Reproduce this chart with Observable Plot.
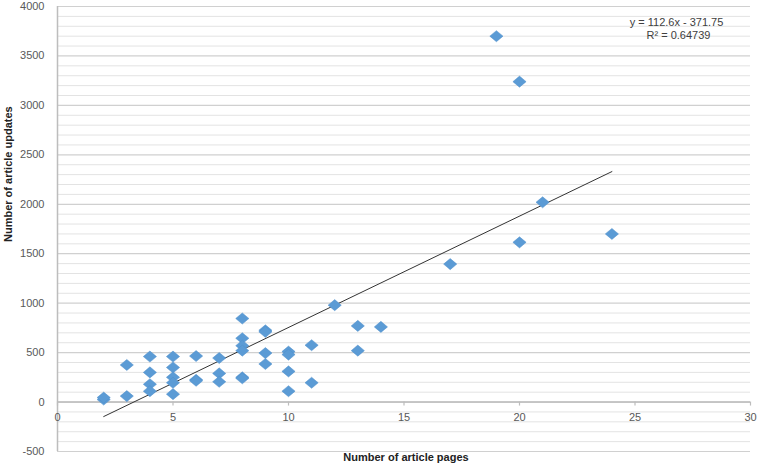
<!DOCTYPE html>
<html>
<head>
<meta charset="utf-8">
<script src="https://cdn.jsdelivr.net/npm/d3@7"></script>
<script src="https://cdn.jsdelivr.net/npm/@observablehq/plot@0.6"></script>
<style>
  html, body { margin: 0; padding: 0; background: #fff; }
  #chart { width: 760px; height: 468px; }
</style>
</head>
<body>
<div id="chart"></div>
<script>
// Number of article pages (x) and number of article updates (y)
const pages   = [2, 2, 3, 3, 4, 4, 4, 4, 5, 5, 5, 5, 5, 6, 6, 6, 7, 7, 7, 8, 8, 8, 8, 8, 8, 9, 9, 9, 9, 10, 10, 10, 10, 11, 11, 12, 13, 13, 14, 17, 19, 20, 20, 21, 24];
const updates = [25, 45, 60, 375, 460, 300, 180, 110, 460, 350, 250, 195, 80, 465, 225, 215, 445, 290, 205, 845, 645, 570, 520, 250, 240, 725, 710, 495, 385, 510, 480, 310, 110, 575, 195, 980, 770, 520, 760, 1395, 3700, 3240, 1615, 2020, 1700];

// Trendline as shown in the chart
const trendSlope = 112.6;
const trendIntercept = -371.75;
const trendLabels = ["y = 112.6x - 371.75", "R\u00b2 = 0.64739"];

const xTicks = [0, 5, 10, 15, 20, 25, 30];
const yTicks = [-500, 0, 500, 1000, 1500, 2000, 2500, 3000, 3500, 4000];
const yMinor = d3.range(-500, 4001, 100).filter(v => v % 500 !== 0);

const xTitle = "Number of article pages";
const yTitle = "Number of article updates";

const data = pages.map((p, i) => ({pages: p, updates: updates[i]}));
const xExtent = d3.extent(pages);
const trend = xExtent.map(x => ({x, y: trendSlope * x + trendIntercept}));

// Excel-like diamond (slightly wider than tall)
const diamond = {
  draw(ctx, size) {
    const w = Math.sqrt(size) * 0.6;
    const h = w * 0.84;
    ctx.moveTo(0, -h);
    ctx.lineTo(w, 0);
    ctx.lineTo(0, h);
    ctx.lineTo(-w, 0);
    ctx.closePath();
  }
};

const font = "'Liberation Sans', Arial, sans-serif";

const chart = Plot.plot({
  width: 760,
  height: 468,
  marginLeft: 57,
  marginRight: 10,
  marginTop: 6,
  marginBottom: 17,
  style: {fontFamily: font, fontSize: "11px", color: "#595959", background: "#fff"},
  x: {domain: [0, 30], axis: null},
  y: {domain: [-500, 4000], axis: null},
  marks: [
    Plot.ruleY(yMinor, {stroke: "#e3e3e3", strokeWidth: 1}),
    Plot.ruleY(yTicks, {stroke: "#d0d0d0", strokeWidth: 1.2}),
    Plot.ruleX([0], {stroke: "#bdbdbd", strokeWidth: 1.5}),
    Plot.ruleY([0], {stroke: "#bdbdbd", strokeWidth: 1.5}),
    Plot.ruleX(xTicks, {x: d => d, y1: 0, y2: 0, insetBottom: -4, stroke: "#bdbdbd", strokeWidth: 1.2}),
    Plot.text(xTicks, {x: d => d, y: 0, text: d => String(d), dy: 15, fill: "#595959", fontSize: 11}),
    Plot.axisY(yTicks, {tickSize: 0, tickPadding: 13, fontSize: 11, tickFormat: d => String(d)}),
    Plot.line(trend, {x: "x", y: "y", stroke: "#333", strokeWidth: 1}),
    Plot.dot(data, {x: "pages", y: "updates", symbol: diamond, r: 6.2, fill: "#5b9bd5", stroke: "#4f8fcb", strokeWidth: 0.5}),
    Plot.text([trendLabels[0]], {frameAnchor: "top-right", dx: -74, dy: 12, text: d => d, textAnchor: "middle", fill: "#404040", fontSize: 11}),
    Plot.text([trendLabels[1]], {frameAnchor: "top-right", dx: -72, dy: 25, text: d => d, textAnchor: "middle", fill: "#404040", fontSize: 11}),
    Plot.text([yTitle], {frameAnchor: "left", rotate: -90, dx: -49, dy: 13, text: d => d, fill: "#222", fontWeight: "bold", fontSize: 11}),
    Plot.text([xTitle], {frameAnchor: "bottom", dy: 9, dx: 2, text: d => d, fill: "#222", fontWeight: "bold", fontSize: 11})
  ]
});

document.getElementById("chart").appendChild(chart);
</script>
</body>
</html>
